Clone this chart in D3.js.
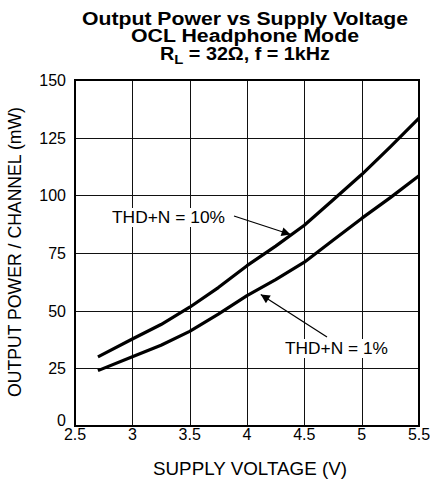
<!DOCTYPE html>
<html>
<head>
<meta charset="utf-8">
<script src="https://cdn.jsdelivr.net/npm/d3@7"></script>
<style>
  html, body { margin: 0; padding: 0; background: #fff; }
  svg { display: block; font-family: "Liberation Sans", Arial, sans-serif; }
</style>
</head>
<body>
<svg id="chart" width="430" height="481"></svg>
<script>
// Supply voltage (V) sample points
const voltage = [2.7, 3.0, 3.25, 3.5, 3.75, 4.0, 4.25, 4.5, 4.75, 5.0, 5.25, 5.5];
// Output power per channel (mW) at THD+N = 10%
const power10 = [30, 37.7, 44, 51.5, 60, 69.5, 78, 87, 98, 109, 121, 133.5];
// Output power per channel (mW) at THD+N = 1%
const power1 = [24, 30, 35, 41, 48.5, 56.5, 63.5, 71, 80.5, 90, 99, 108.5];

const xTicks = [2.5, 3, 3.5, 4, 4.5, 5, 5.5];
const yTicks = [0, 25, 50, 75, 100, 125, 150];
const titleLines = ["Output Power vs Supply Voltage", "OCL Headphone Mode"];

const svg = d3.select("#chart");
const m = { left: 75, top: 80, right: 419, bottom: 426 };

const x = d3.scaleLinear().domain([2.5, 5.5]).range([m.left, m.right]);
const y = d3.scaleLinear().domain([0, 150]).range([m.bottom, m.top]);

// Grid
const grid = svg.append("g").attr("stroke", "#111").attr("stroke-width", 1);
grid.selectAll(".vx").data(xTicks.slice(1, -1)).join("line")
  .attr("x1", d => Math.round(x(d)) + 0.5).attr("x2", d => Math.round(x(d)) + 0.5)
  .attr("y1", m.top).attr("y2", m.bottom);
grid.selectAll(".hy").data(yTicks.slice(1, -1)).join("line")
  .attr("y1", d => Math.round(y(d)) + 0.5).attr("y2", d => Math.round(y(d)) + 0.5)
  .attr("x1", m.left).attr("x2", m.right);

// Frame
svg.append("rect")
  .attr("x", m.left).attr("y", m.top)
  .attr("width", m.right - m.left).attr("height", m.bottom - m.top)
  .attr("fill", "none").attr("stroke", "#000").attr("stroke-width", 2);

// Tick labels
svg.append("g").selectAll("text").data(xTicks).join("text")
  .attr("x", d => x(d)).attr("y", m.bottom + 14)
  .attr("text-anchor", "middle").attr("font-size", 16)
  .text(d => d);
svg.append("g").selectAll("text").data(yTicks).join("text")
  .attr("x", m.left - 9).attr("y", d => y(d) + (d === 0 ? 0 : 6))
  .attr("text-anchor", "end").attr("font-size", 16)
  .text(d => d);

// Axis titles
svg.append("text")
  .attr("x", 250).attr("y", 475)
  .attr("text-anchor", "middle").attr("font-size", 17.5)
  .attr("textLength", 194).attr("lengthAdjust", "spacingAndGlyphs")
  .text("SUPPLY VOLTAGE (V)");
svg.append("text")
  .attr("transform", `translate(21,252) rotate(-90)`)
  .attr("text-anchor", "middle").attr("font-size", 17.5)
  .attr("textLength", 290).attr("lengthAdjust", "spacingAndGlyphs")
  .text("OUTPUT POWER / CHANNEL (mW)");

// Title
const cx = 245;
svg.append("text").attr("x", cx).attr("y", 24.5)
  .attr("text-anchor", "middle").attr("font-size", 18).attr("font-weight", "bold")
  .attr("textLength", 326).attr("lengthAdjust", "spacingAndGlyphs")
  .text(titleLines[0]);
svg.append("text").attr("x", cx).attr("y", 42)
  .attr("text-anchor", "middle").attr("font-size", 18).attr("font-weight", "bold")
  .attr("textLength", 228).attr("lengthAdjust", "spacingAndGlyphs")
  .text(titleLines[1]);
const t3 = svg.append("text").attr("x", cx).attr("y", 59.5)
  .attr("text-anchor", "middle").attr("font-size", 18).attr("font-weight", "bold")
  .attr("textLength", 170).attr("lengthAdjust", "spacingAndGlyphs");
t3.append("tspan").text("R");
t3.append("tspan").attr("font-size", 13.5).attr("dy", 4).text("L");
t3.append("tspan").attr("dy", -4).text(" = 32Ω, f = 1kHz");

// Curves
const line = d3.line().x(d => x(d[0])).y(d => y(d[1]));
[power10, power1].forEach(series => {
  svg.append("path")
    .datum(voltage.map((v, i) => [v, series[i]]))
    .attr("d", line)
    .attr("fill", "none").attr("stroke", "#000").attr("stroke-width", 3.2)
    .attr("stroke-linejoin", "round");
});

// Annotations
const defs = svg.append("defs");
defs.append("marker").attr("id", "arrow")
  .attr("viewBox", "0 0 10 10").attr("refX", 10).attr("refY", 5)
  .attr("markerWidth", 14).attr("markerHeight", 9).attr("markerUnits", "userSpaceOnUse")
  .attr("orient", "auto")
  .append("path").attr("d", "M0,0 L10,5 L0,10 Z").attr("fill", "#000");

function note(label, tx, ty, width, vFrom, vTo) {
  svg.append("rect")
    .attr("x", tx - 3).attr("y", ty - 15).attr("width", width + 6).attr("height", 19)
    .attr("fill", "#fff");
  svg.append("text").attr("x", tx).attr("y", ty).attr("font-size", 16.5)
    .attr("textLength", width).attr("lengthAdjust", "spacingAndGlyphs")
    .text(label);
  svg.append("line")
    .attr("x1", vFrom[0]).attr("y1", vFrom[1])
    .attr("x2", vTo[0]).attr("y2", vTo[1])
    .attr("stroke", "#000").attr("stroke-width", 1.2)
    .attr("marker-end", "url(#arrow)");
}
note("THD+N = 10%", 112, 223, 113, [234, 216], [x(4.38), y(power10[7] - 4)]);
note("THD+N = 1%", 285, 354, 103, [327, 337], [x(4.12), y(57)]);
</script>
</body>
</html>
